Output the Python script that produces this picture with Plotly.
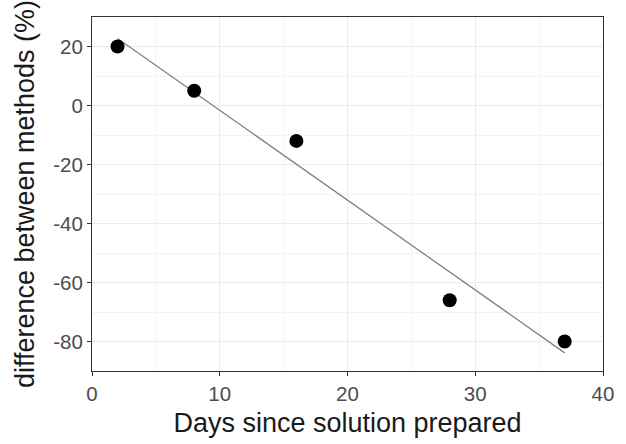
import numpy as np
import plotly.graph_objects as go

# Measurements: days since the solution was prepared vs. % difference between methods
days = [2, 8, 16, 28, 37]
difference = [20, 5, -12, -66, -80]

x_ticks = [0, 10, 20, 30, 40]
y_ticks = [-80, -60, -40, -20, 0, 20]
x_tick_labels = ["0", "10", "20", "30", "40"]
y_tick_labels = ["-80", "-60", "-40", "-20", "0", "20"]

# Least-squares line through the points, spanning the observed days
slope, intercept = np.polyfit(days, difference, 1)
fit_x = np.array([min(days), max(days)])
fit_y = slope * fit_x + intercept

FONT = "Liberation Sans, Arial, sans-serif"

fig = go.Figure()
fig.add_trace(go.Scatter(
    x=fit_x, y=fit_y, mode="lines",
    line=dict(color="#808080", width=1.3),
    hoverinfo="skip", showlegend=False,
))
fig.add_trace(go.Scatter(
    x=days, y=difference, mode="markers",
    marker=dict(color="black", size=14, line=dict(width=0)),
    showlegend=False,
))

axis_common = dict(
    showgrid=True, gridcolor="#ebebeb", gridwidth=1.3,
    minor=dict(showgrid=True, gridcolor="#f3f3f3", gridwidth=0.8),
    zeroline=False,
    showline=True, linecolor="#333333", linewidth=1, mirror=True,
    ticks="outside", ticklen=4, tickwidth=1, tickcolor="#333333",
    tickfont=dict(family=FONT, size=20.5, color="#4d4d4d"),
)

fig.update_xaxes(
    range=[0, 40], tickvals=x_ticks, ticktext=x_tick_labels,
    minor_tickvals=[5, 15, 25, 35],
    title=dict(text="Days since solution prepared",
               font=dict(family=FONT, size=27, color="#1a1a1a"), standoff=9),
    **axis_common,
)
fig.update_yaxes(
    range=[-90, 30], tickvals=y_ticks, ticktext=y_tick_labels,
    minor_tickvals=[-90, -70, -50, -30, -10, 10, 30],
    title=dict(text="difference between methods (%)",
               font=dict(family=FONT, size=27, color="#1a1a1a"), standoff=10),
    **axis_common,
)

fig.update_layout(
    width=626, height=444,
    margin=dict(l=92, r=14, t=17, b=71),
    plot_bgcolor="white", paper_bgcolor="white",
)

fig.write_html("out.html")
